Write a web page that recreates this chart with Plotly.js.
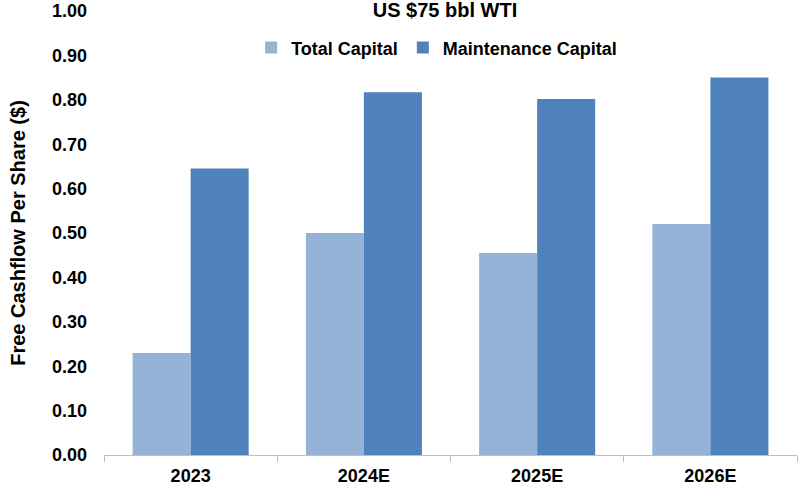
<!DOCTYPE html>
<html>
<head>
<meta charset="utf-8">
<script src="https://cdn.plot.ly/plotly-3.0.1.min.js"></script>
<style>html,body{margin:0;padding:0;background:#fff;}#chart{width:798px;height:491px;}</style>
</head>
<body>
<div id="chart"></div>
<script>
var categories = ["2023", "2024E", "2025E", "2026E"];
var totalCapital = [0.23, 0.50, 0.455, 0.52];
var maintenanceCapital = [0.645, 0.817, 0.802, 0.85];
var seriesNames = ["Total Capital", "Maintenance Capital"];
var yTicks = [0, 0.1, 0.2, 0.3, 0.4, 0.5, 0.6, 0.7, 0.8, 0.9, 1.0];

var font = {family: "Liberation Sans, Arial, sans-serif", color: "#000"};
var data = [
  {type: "bar", name: seriesNames[0], x: categories, y: totalCapital, marker: {color: "#95B3D7"}},
  {type: "bar", name: seriesNames[1], x: categories, y: maintenanceCapital, marker: {color: "#4F81BD"}}
];
var layout = {
  width: 798, height: 491,
  margin: {l: 104, r: 1, t: 11, b: 36},
  paper_bgcolor: "#fff", plot_bgcolor: "#fff",
  barmode: "group", bargap: 0.33, bargroupgap: 0,
  showlegend: true,
  title: {text: "<b>US $75 bbl WTI</b>", font: {family: font.family, size: 20, color: "#000"},
          xref: "paper", x: 0.492, xanchor: "center", yref: "container", y: 0.979, yanchor: "middle"},
  legend: {orientation: "h", x: 0.48, xanchor: "center", y: 0.917, yanchor: "middle",
           font: {family: font.family, size: 18, color: "#000", weight: "bold"}, bgcolor: "rgba(0,0,0,0)"},
  xaxis: {type: "category", tickson: "boundaries", ticks: "outside", ticklen: 6, tickcolor: "#BFBFBF",
          showline: true, linecolor: "#BFBFBF", linewidth: 1, showgrid: false,
          tickfont: {family: font.family, size: 18, color: "#000", weight: "bold"}, ticklabelstandoff: 4},
  yaxis: {range: [0, 1.0], tickvals: yTicks, tickformat: ".2f", showgrid: false, zeroline: false, showline: false,
          ticks: "", ticklabelstandoff: 16,
          tickfont: {family: font.family, size: 18, color: "#000", weight: "bold"},
          title: {text: "<b>Free Cashflow Per Share ($)</b>", font: {family: font.family, size: 20, color: "#000"}, standoff: 20}}
};
Plotly.newPlot("chart", data, layout, {displayModeBar: false, staticPlot: true});
</script>
</body>
</html>
